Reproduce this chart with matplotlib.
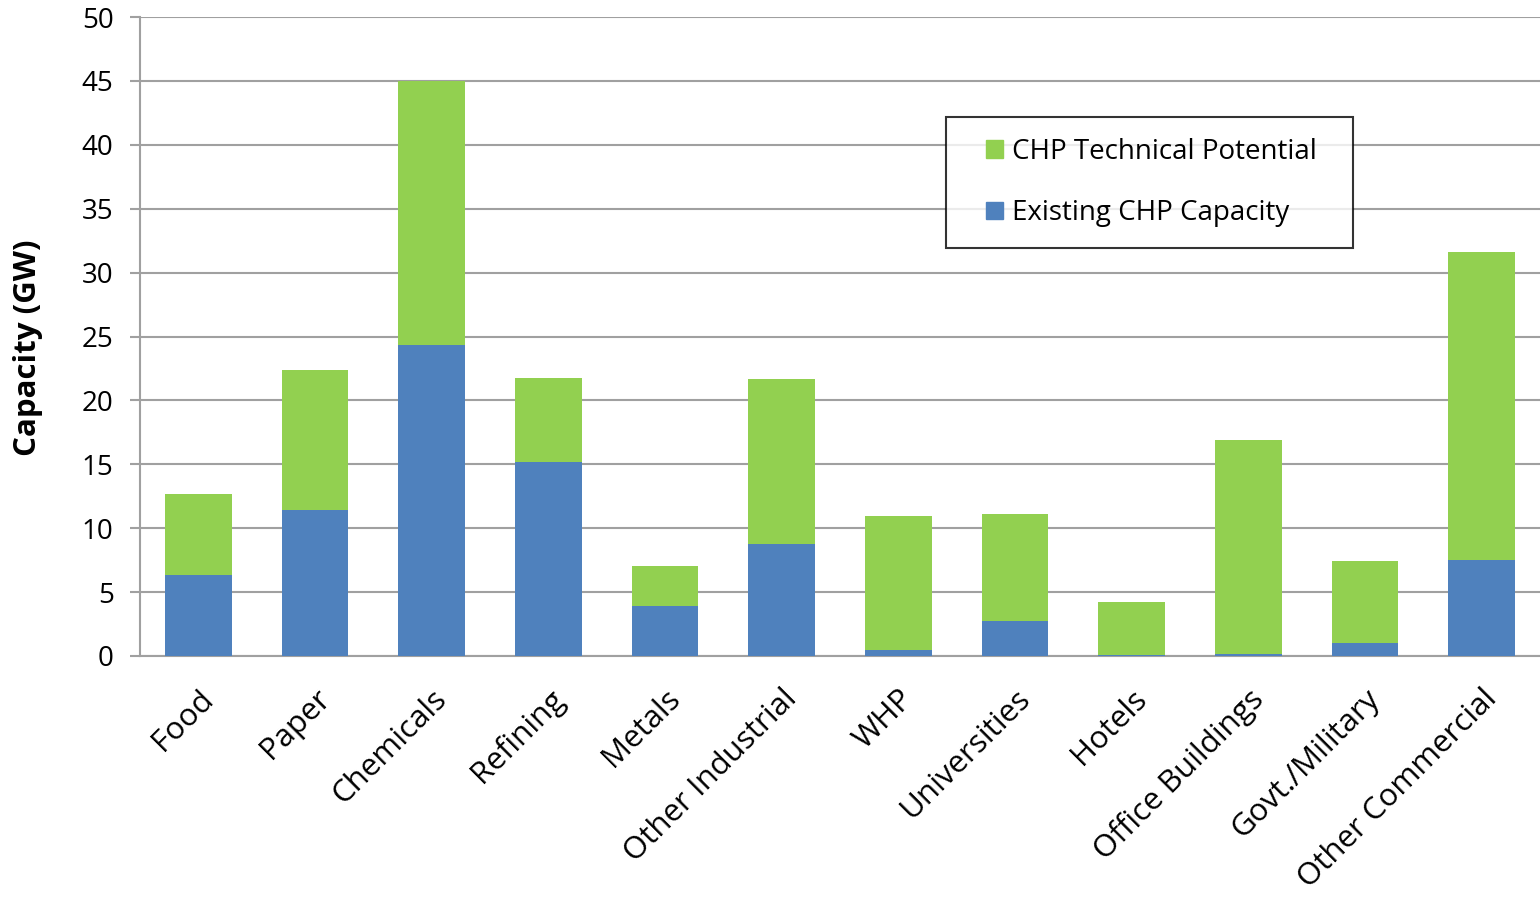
import matplotlib.pyplot as plt
from matplotlib.patches import Patch, Rectangle
from matplotlib.legend_handler import HandlerPatch

plt.rcParams['font.family'] = ['Open Sans', 'DejaVu Sans']

categories = ["Food", "Paper", "Chemicals", "Refining", "Metals", "Other Industrial",
              "WHP", "Universities", "Hotels", "Office Buildings", "Govt./Military",
              "Other Commercial"]
existing = [6.3, 11.4, 24.3, 15.2, 3.9, 8.8, 0.47, 2.7, 0.05, 0.18, 1.0, 7.5]
total = [12.7, 22.4, 45.0, 21.75, 7.05, 21.7, 10.95, 11.1, 4.2, 16.9, 7.45, 31.6]
potential = [t - e for t, e in zip(total, existing)]

blue = "#4F81BD"
green = "#92D050"
grid = "#A0A0A0"


def square_right(legend, orig_handle, xdescent, ydescent, width, height, fontsize):
    # square marker pushed to the right end of the handle box
    return Rectangle((width - height - xdescent, -ydescent), height, height)


fig = plt.figure(figsize=(15.4, 8.99), dpi=100)
ax = fig.add_axes([140 / 1540, 243 / 899, 1400 / 1540, 639 / 899])

x = list(range(len(categories)))
ax.bar(x, existing, width=0.57, color=blue, zorder=3)
ax.bar(x, potential, width=0.57, bottom=existing, color=green, zorder=3)

ax.set_xlim(-0.5, len(categories) - 0.5)
ax.set_ylim(0, 50)
ax.set_yticks(range(0, 51, 5))
ax.yaxis.grid(True, color=grid, linewidth=1.5, zorder=0)
ax.set_axisbelow(True)

for side in ["top", "right"]:
    ax.spines[side].set_visible(False)
for side in ["left", "bottom"]:
    ax.spines[side].set_color(grid)
    ax.spines[side].set_linewidth(1.5)

ax.tick_params(axis="y", length=7, width=1.5, color=grid, labelsize=20, pad=12)
ax.tick_params(axis="x", length=0, pad=20)
ax.set_xticks(x)
ax.set_xticklabels(categories, rotation=45, ha="right", rotation_mode="anchor", fontsize=22.5)

ax.set_ylabel("Capacity (GW)", fontsize=22.5, fontweight="bold")
ax.yaxis.set_label_coords(-0.069, 0.482)

handles = [Patch(color=green, label="CHP Technical Potential"),
           Patch(color=blue, label="Existing CHP Capacity")]
leg = ax.legend(handles=handles, loc="upper left",
                bbox_to_anchor=(0.576, 0.6416, 0.2907, 0.2019), mode="expand",
                fontsize=20, frameon=True, fancybox=False, handlelength=1.3,
                handleheight=0.6, handletextpad=0.3, labelspacing=1.2,
                borderpad=0.75, borderaxespad=0,
                handler_map={Patch: HandlerPatch(patch_func=square_right)})
leg.get_frame().set_edgecolor("black")
leg.get_frame().set_linewidth(1.5)

fig.savefig("out.png", dpi=100)
